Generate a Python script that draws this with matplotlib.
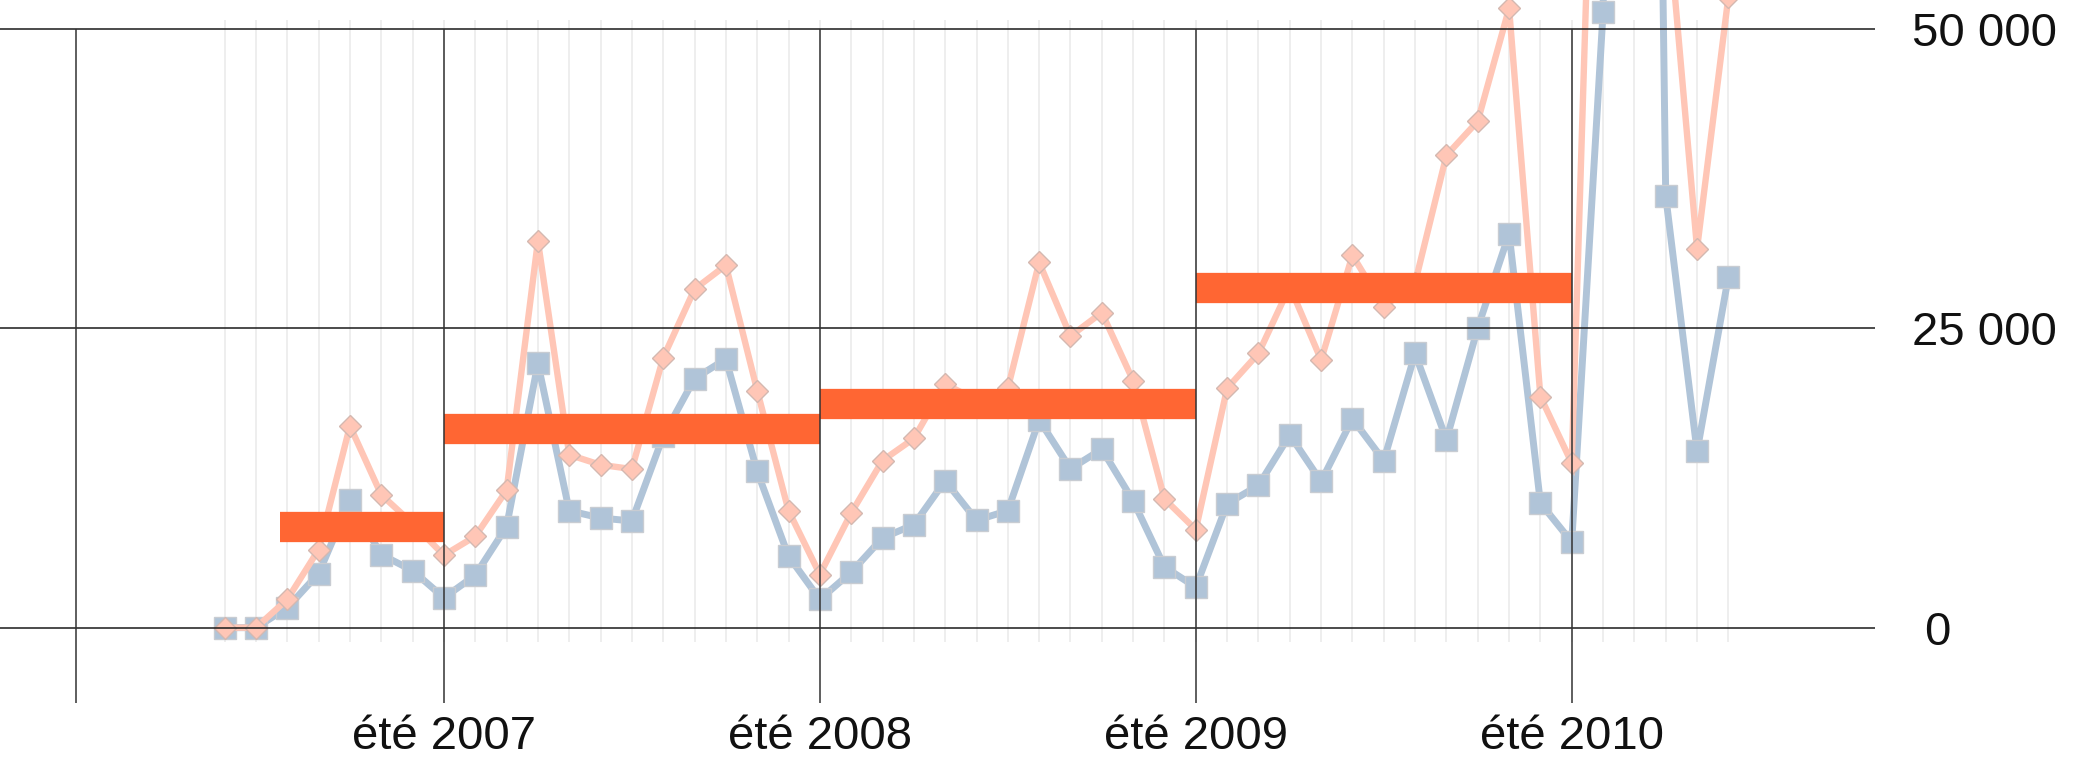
import matplotlib
matplotlib.use('Agg')
import matplotlib.pyplot as plt
import matplotlib.transforms as mtransforms

plt.rcParams['font.family'] = ['Liberation Sans', 'DejaVu Sans']

# --- Data (monthly points, month index 0 = first month shown) ---
months = list(range(49))

series_blue = [0, 0, 1670, 4520, 10630, 6100, 4770, 2500, 4380, 8440,
               22070, 9770, 9160, 8910, 16000, 20800, 22440, 13050, 5970, 2360,
               4630, 7500, 8600, 12270, 8970, 9770, 17350, 13270, 14910, 10600,
               5080, 3380, 10350, 11880, 16100, 12210, 17440, 13960, 22900, 15700,
               25040, 32900, 10410, 7160, 51400, 230000, 36040, 14720, 29300]

series_pink = [0, 0, 2360, 6520, 16850, 11100, 8700, 6050, 7630, 11470,
               32300, 14440, 13600, 13250, 22550, 28270, 30270, 19800, 9770, 4440,
               9580, 13960, 15800, 20350, 19000, 20000, 30500, 24350, 26320, 20630,
               10750, 8190, 20000, 22900, 28500, 22360, 31100, 26800, 28800, 39450,
               42300, 51730, 19300, 13750, 98700, 260000, 61500, 31650, 52700]

# yearly averages (start month, end month, value)
avg_start = [1.77, 7, 19, 31]
avg_end = [7, 19, 31, 43]
avg_value = [8420, 16560, 18660, 28390]

# summer markers
summer_pos = [-4.75, 7, 19, 31, 43]
summer_labels = ['', 'été 2007', 'été 2008', 'été 2009', 'été 2010']

y_ticks = [0, 25000, 50000]
y_labels = ['0', '25 000', '50 000']
# ---------------

W, H = 2074, 760
fig = plt.figure(figsize=(W / 100, H / 100), dpi=100)
ax = fig.add_axes([0, 1 - 703 / H, 1875 / W, 703 / H])

ax.set_xlim(-7.17, 52.68)
ax.set_ylim(-6290, 52420)

# light monthly grid
ax.vlines(months, -1200, 50750, color='#ebebeb', lw=1.2, zorder=0.5)

ax.plot(months, series_blue, color='#b0c4d8', lw=5, marker='s', ms=15.5,
        mfc='#b0c4d8', mec='#c8ccd2', mew=1, zorder=2, solid_joinstyle='round')
ax.plot(months, series_pink, color='#ffc6b6', lw=4.6, marker='D', ms=11.5,
        mfc='#ffc6b6', mec='#d4b8b0', mew=1, zorder=3, solid_joinstyle='miter')

ax.hlines(avg_value, avg_start, avg_end, color='#ff6633', lw=21.8,
          capstyle='butt', zorder=4)

# main grid
for yv in y_ticks:
    ax.axhline(yv, color='#1a1a1a', lw=1.1, zorder=5)
ax.vlines(summer_pos, ax.get_ylim()[0], 50000, color='#333333', lw=1.1, zorder=5)

for s in ax.spines.values():
    s.set_visible(False)
ax.set_xticks([])
ax.yaxis.tick_right()
ax.set_yticks(y_ticks)
ax.set_yticklabels(y_labels)
ax.tick_params(axis='y', length=0, pad=27, labelsize=34, labelcolor='#111111')

# the "0" label sits a little further right in the original
zero_lbl = ax.yaxis.get_major_ticks()[0].label2
zero_lbl.set_transform(zero_lbl.get_transform()
                       + mtransforms.ScaledTranslation(0.12, 0, fig.dpi_scale_trans))

trans = mtransforms.blended_transform_factory(ax.transData, fig.transFigure)
for xp, lab in zip(summer_pos, summer_labels):
    if lab:
        ax.text(xp, 1 - 749 / H, lab, transform=trans, ha='center', va='baseline',
                fontsize=34, color='#111111', clip_on=False)

fig.savefig('out.png', dpi=100)
